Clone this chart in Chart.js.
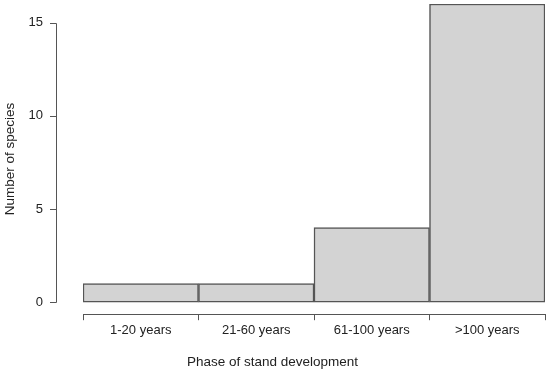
<!DOCTYPE html>
<html>
<head>
<meta charset="utf-8">
<script src="https://cdn.jsdelivr.net/npm/chart.js@4"></script>
<style>
  html, body { margin: 0; padding: 0; background: #fff; }
  #wrap { width: 550px; height: 373px; }
</style>
</head>
<body>
<div id="wrap"><canvas id="chartJSContainer" width="550" height="373"></canvas></div>
<script>
// data
const phases = ['1-20 years', '21-60 years', '61-100 years', '>100 years'];
const speciesCount = [1, 1, 4, 16];
const yTickValues = [0, 5, 10, 15];

const axisColor = '#555';
const textColor = '#222';
const fontFamily = "'Liberation Sans', Arial, sans-serif";

// R-style y axis: line only from first to last tick, set off from the bars
const rAxis = {
  id: 'rAxis',
  afterDraw(chart) {
    const y = chart.scales.y;
    const ctx = chart.ctx;
    const x0 = chart.chartArea.left - 27;
    ctx.save();
    ctx.strokeStyle = axisColor;
    ctx.lineWidth = 1;
    ctx.beginPath();
    ctx.moveTo(x0 + 0.5, Math.round(y.getPixelForValue(yTickValues[0])) + 0.5);
    ctx.lineTo(x0 + 0.5, Math.round(y.getPixelForValue(yTickValues[yTickValues.length - 1])) + 0.5);
    yTickValues.forEach(v => {
      const py = Math.round(y.getPixelForValue(v)) + 0.5;
      ctx.moveTo(x0 + 0.5, py);
      ctx.lineTo(x0 - 6, py);
    });
    ctx.stroke();
    ctx.restore();
  }
};

var options = {
  type: 'bar',
  data: {
    labels: phases,
    datasets: [{
      data: speciesCount,
      backgroundColor: '#d3d3d3',
      borderColor: axisColor,
      borderWidth: 1.5,
      borderSkipped: false,
      barPercentage: 1,
      categoryPercentage: 1
    }]
  },
  options: {
    responsive: false,
    animation: false,
    layout: { padding: { top: 4, right: 5, bottom: 0, left: 0 } },
    plugins: {
      legend: { display: false },
      tooltip: { enabled: false },
      title: {
        display: true,
        position: 'bottom',
        text: 'Phase of stand development',
        color: textColor,
        font: { family: fontFamily, size: 13.5, weight: 'normal' },
        padding: { top: 14, bottom: 3 }
      }
    },
    scales: {
      x: {
        offset: true,
        grid: {
          display: true,
          offset: true,
          drawOnChartArea: false,
          drawTicks: true,
          tickLength: 6,
          color: axisColor
        },
        border: { display: true, color: axisColor, width: 1 },
        ticks: {
          color: textColor,
          padding: 2,
          maxRotation: 0,
          font: { family: fontFamily, size: 13 }
        }
      },
      y: {
        min: -0.65,
        max: 16,
        // tick marks are drawn by the rAxis plugin; the long invisible
        // tick length only pushes the labels out to the left
        grid: { display: false, drawTicks: true, tickLength: 40 },
        border: { display: false },
        ticks: {
          color: textColor,
          padding: 0,
          font: { family: fontFamily, size: 13 }
        },
        afterBuildTicks(scale) {
          scale.ticks = yTickValues.map(v => ({ value: v }));
        },
        title: {
          display: true,
          text: 'Number of species',
          color: textColor,
          font: { family: fontFamily, size: 13.5 },
          padding: { top: 2, bottom: 0 }
        },
        afterFit(scale) {
          scale.width = 83;
          scale.paddingTop = 0;
          scale.paddingBottom = 0;
        }
      }
    }
  },
  plugins: [rAxis]
};

var ctx = document.getElementById('chartJSContainer').getContext('2d');
new Chart(ctx, options);
</script>
</body>
</html>
